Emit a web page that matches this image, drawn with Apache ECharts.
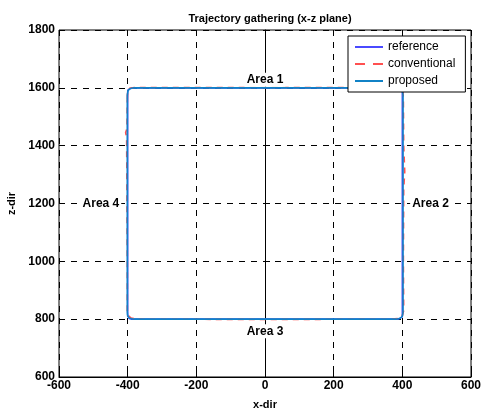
<!DOCTYPE html>
<html lang="en">
<head>
<meta charset="UTF-8">
<title>trajectory_xz</title>
<script src="https://cdn.jsdelivr.net/npm/echarts@6/dist/echarts.min.js"></script>
</head>
<body style="margin:0;background:#fff;">
<div id="chart" style="width:483px;height:410px;"></div>
<script>
// trajectory data, [x, z]
var referencePath = [
    [-400, 1585], [-399, 1593], [-396, 1598], [-388, 1600], [388, 1600], [396, 1598], [399, 1593], [400, 1585],
    [400, 815], [399, 807], [396, 802], [388, 800], [-388, 800], [-396, 802], [-399, 807], [-400, 815], [-400, 1585]
];
var conventionalPath = [
    [-401, 1560], [-400, 1590], [-395, 1598], [-380, 1601], [0, 1601], [380, 1601], [395, 1598], [402, 1588],
    [403, 1560], [404, 1400], [407, 1310], [404, 1250], [403, 1000], [404, 830], [400, 812], [392, 803],
    [370, 800], [0, 799], [-370, 800], [-390, 804], [-398, 812], [-401, 830], [-401, 1000], [-402, 1200],
    [-403, 1430], [-406, 1445], [-402, 1460], [-401, 1560]
];
var proposedPath = [
    [-401, 1575], [-399, 1590], [-394, 1597], [-382, 1600], [382, 1600], [394, 1597], [400, 1590], [402, 1575],
    [402, 825], [400, 810], [394, 803], [382, 800], [-382, 800], [-394, 803], [-400, 810], [-401, 825], [-401, 1575]
];
var seriesNames = ['reference', 'conventional', 'proposed'];
var areaLabels = [
    {name: 'Area 1', value: [0, 1628]},
    {name: 'Area 2', value: [482, 1200]},
    {name: 'Area 3', value: [0, 758]},
    {name: 'Area 4', value: [-478, 1200]}
];

var chart = echarts.init(document.getElementById('chart'));
var font = 'Liberation Sans, Arial, sans-serif';

var lineSeries = function (name, data, color, type) {
    return {
        name: name,
        type: 'line',
        data: data,
        showSymbol: false,
        symbol: 'none',
        silent: true,
        lineStyle: {color: color, width: 1.6, type: type || 'solid'},
        itemStyle: {color: color}
    };
};

var option = {
    animation: false,
    title: {
        text: 'Trajectory gathering (x-z plane)',
        left: 265, top: 8, textAlign: 'center',
        textStyle: {fontFamily: font, fontSize: 11, fontWeight: 'bold', color: '#000'}
    },
    grid: {
        left: 59, top: 30, width: 412, height: 347,
        outerBoundsMode: 'none', containLabel: false,
        show: true, borderColor: '#000', borderWidth: 1, backgroundColor: 'transparent'
    },
    legend: {
        orient: 'vertical', left: 348, top: 36,
        backgroundColor: '#fff', borderColor: '#000', borderWidth: 1,
        padding: [5, 10, 5, 7], itemGap: 5, itemWidth: 28, itemHeight: 2,
        textStyle: {fontFamily: font, fontSize: 12, color: '#000'},
        data: [
            {name: seriesNames[0], icon: 'rect'},
            {name: seriesNames[1], icon: 'path://M0,0h10v2H0z M18,0h10v2H18z'},
            {name: seriesNames[2], icon: 'rect'}
        ]
    },
    xAxis: {
        type: 'value', min: -600, max: 600, interval: 200,
        name: 'x-dir', nameLocation: 'middle', nameGap: 22,
        nameTextStyle: {fontFamily: font, fontSize: 11, fontWeight: 'bold', color: '#000'},
        axisLine: {lineStyle: {color: '#000'}},
        axisTick: {inside: true, length: 5, lineStyle: {color: '#000'}},
        axisLabel: {fontFamily: font, fontSize: 12, fontWeight: 'bold', color: '#000', margin: 3},
        splitLine: {show: true, lineStyle: {color: '#000', type: [6, 6], width: 1}}
    },
    yAxis: {
        type: 'value', min: 600, max: 1800, interval: 200,
        name: 'z-dir', nameLocation: 'middle', nameGap: 42,
        nameTextStyle: {fontFamily: font, fontSize: 11, fontWeight: 'bold', color: '#000'},
        axisLine: {show: true, lineStyle: {color: '#000'}},
        axisTick: {show: true, inside: true, length: 5, lineStyle: {color: '#000'}},
        axisLabel: {
            fontFamily: font, fontSize: 12, fontWeight: 'bold', color: '#000', margin: 4,
            formatter: function (v) { return String(v); }
        },
        splitLine: {show: true, lineStyle: {color: '#000', type: [6, 6], width: 1}}
    },
    series: [
        lineSeries(seriesNames[0], referencePath, '#4a4aff'),
        lineSeries(seriesNames[1], conventionalPath, '#ff5050', [6, 5]),
        lineSeries(seriesNames[2], proposedPath, '#1182c6'),
        {
            type: 'scatter',
            silent: true,
            symbolSize: 1,
            itemStyle: {color: 'rgba(0,0,0,0)'},
            data: areaLabels,
            z: 5,
            label: {
                show: true, position: 'inside', formatter: '{b}',
                fontFamily: font, fontSize: 12, fontWeight: 'bold', color: '#000', opacity: 1,
                backgroundColor: '#fff', padding: [1, 2]
            }
        }
    ]
};
chart.setOption(option);
</script>
</body>
</html>
